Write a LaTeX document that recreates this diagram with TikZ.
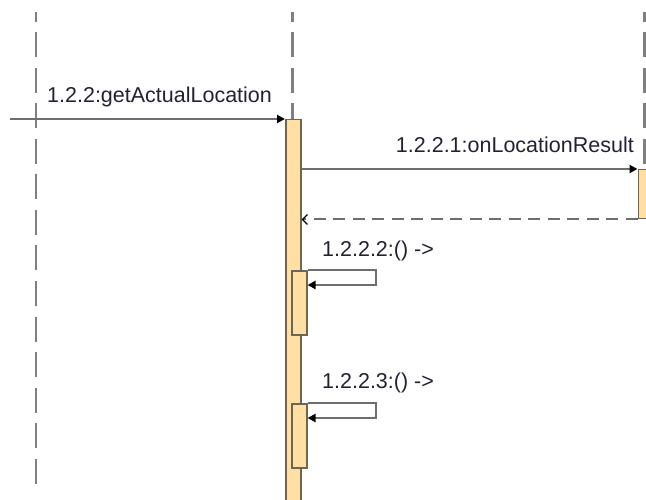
\documentclass[tikz,border=0pt]{standalone}
\usepackage{fontspec}
\setmainfont{Liberation Sans}
\usetikzlibrary{arrows.meta}
\definecolor{actfill}{HTML}{FFDFA3}
\definecolor{actline}{HTML}{6E6655}
\definecolor{msgline}{HTML}{6E6E6E}
\definecolor{lifeline}{HTML}{808080}
\definecolor{labeltext}{HTML}{222233}
\tikzset{
  lifel/.style={draw=lifeline, line width=2.4pt, dash pattern=on 25pt off 10.5pt, dash phase=15pt},
  act/.style={draw=actline, fill=actfill, line width=1.5pt, rectangle, inner sep=0pt, minimum width=15pt, anchor=north west},
  msg/.style={draw=msgline, line width=2pt, -{Triangle[length=8pt,width=8pt,color=black]}},
  ret/.style={draw=msgline, line width=2pt, dash pattern=on 12pt off 7.5pt, -{Straight Barb[length=5pt,width=10pt,color=black,line width=1.3pt]}},
  selfmsg/.style={draw=msgline, line width=2pt, -{Triangle[length=8pt,width=8pt,color=black]}},
  lbl/.style={inner sep=0pt, text=labeltext, font=\fontsize{21.5}{26}\selectfont},
}
\begin{document}
\begin{tikzpicture}[x=1pt, y=-1pt]
  \useasboundingbox (0,0) rectangle (646,500);
  \clip (0,0) rectangle (646,500);

  % lifelines
  \coordinate (lA) at (36,12);
  \coordinate (lAend) at (36,493);
  \coordinate (lB) at (292.5,12);
  \coordinate (lBend) at (292.5,119);
  \coordinate (lC) at (644.5,12);
  \coordinate (lCend) at (644.5,169);
  \draw[lifel] (lA) -- (lAend);
  \draw[lifel] (lB) -- (lBend);
  \draw[lifel] (lC) -- (lCend);

  % activations
  \node[act, minimum height=400pt] (actB) at (285,119) {};
  \node[act, minimum height=49pt] (actC) at (637.5,169) {};
  \node[act, minimum height=64pt] (s1) at (291,270) {};
  \node[act, minimum height=64pt] (s2) at (291,403) {};

  % incoming call
  \coordinate (src) at (10,119);
  \draw[msg] (src) -- (actB.north west);
  \node[lbl, anchor=base west] (m1) at (47,103) {1.2.2:getActualLocation};

  % call and return
  \draw[msg] (actB.east |- actC.north west) -- (actC.north west);
  \node[lbl, anchor=base east] (m2) at (634,153) {1.2.2.1:onLocationResult};
  \draw[ret] (actC.south west) -- (actB.east |- actC.south west);

  % self calls
  \coordinate (loop1) at (376,285);
  \draw[selfmsg] (s1.north east) -| (loop1) -- (s1.east |- loop1);
  \node[lbl, anchor=base west] (m3) at (322,257) {1.2.2.2:() ->};

  \coordinate (loop2) at (376,418);
  \draw[selfmsg] (s2.north east) -| (loop2) -- (s2.east |- loop2);
  \node[lbl, anchor=base west] (m4) at (322,388) {1.2.2.3:() ->};
\end{tikzpicture}
\end{document}
